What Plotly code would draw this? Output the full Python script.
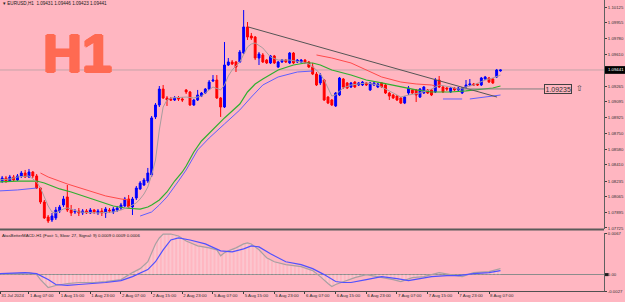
import plotly.graph_objects as go

W, H = 625, 302

# ---------------- data ----------------
bars = list(range(132))
open_pts = [
108225,108235,108268,108235,108279,108246,108290,108322,108279,108333,
108290,108159,108007,107844,107812,107834,107910,107975,108062,107920,
107899,107910,107888,107910,107888,107920,107888,107910,107888,107920,
107899,107920,107942,107964,108040,107953,108051,108149,108192,108235,
108301,108931,109061,109234,109137,109126,109115,109137,109126,109224,
109202,109061,109115,109158,109191,109234,109321,109332,109137,109039,
109495,109528,109528,109528,109625,109908,109810,109799,109571,109604,
109549,109517,109593,109473,109528,109549,109517,109625,109528,109528,
109549,109528,109473,109397,109300,109332,109147,109115,109050,109169,
109343,109300,109256,109310,109278,109278,109300,109224,109278,109256,
109300,109278,109191,109169,109158,109137,109082,109191,109224,109224,
109147,109191,109224,109224,109202,109332,109256,109245,109202,109245,
109224,109191,109256,109278,109289,109289,109278,109343,109354,109343,
109365,109431]
high_pts = [
108268,108290,108290,108301,108301,108311,108344,108355,108366,108344,
108311,108170,108029,107866,107888,107953,107975,108073,108192,107975,
107931,107942,107931,107931,107942,107931,107931,107942,107953,107942,
107953,107964,107997,108062,108083,108062,108181,108235,108268,108377,
108941,109082,109267,109278,109158,109147,109158,109158,109147,109234,
109213,109126,109224,109202,109245,109332,109386,109386,109147,109745,
109571,109549,109539,109658,110092,109962,109843,109810,109636,109625,
109560,109604,109604,109539,109560,109560,109636,109636,109560,109560,
109560,109539,109517,109419,109408,109343,109158,109126,109202,109365,
109354,109310,109310,109321,109310,109321,109310,109310,109310,109300,
109310,109289,109202,109180,109169,109147,109158,109267,109234,109234,
109245,109267,109234,109234,109354,109376,109267,109256,109256,109256,
109256,109256,109332,109343,109300,109300,109365,109376,109365,109354,
109452,109446]
low_pts = [
108203,108214,108214,108225,108235,108235,108268,108268,108268,108268,
108149,107986,107823,107779,107790,107812,107888,107953,107899,107855,
107877,107855,107866,107877,107877,107877,107866,107855,107834,107888,
107877,107899,107920,107953,107942,107866,108029,108138,108181,108214,
108279,108909,109039,109126,109050,109104,109104,109104,109093,109180,
109050,109050,109104,109147,109180,109224,109310,109126,108931,109028,
109484,109495,109419,109517,109615,109767,109767,109549,109495,109517,
109506,109506,109506,109463,109517,109517,109506,109506,109517,109517,
109506,109463,109386,109267,109278,109104,109071,109050,109039,109158,
109234,109234,109245,109245,109267,109267,109267,109213,109267,109245,
109245,109180,109115,109126,109104,109071,109071,109169,109180,109093,
109137,109180,109180,109158,109191,109245,109191,109213,109191,109213,
109213,109180,109245,109267,109267,109267,109267,109332,109300,109289,
109354,109423]
close_pts = [
108246,108268,108235,108279,108246,108290,108322,108279,108333,108290,
108159,108007,107834,107801,107855,107920,107953,108040,107920,107888,
107910,107888,107910,107888,107920,107899,107910,107888,107931,107910,
107931,107942,107975,108040,107953,108040,108159,108214,108246,108322,
108920,109061,109234,109137,109115,109115,109137,109126,109115,109202,
109061,109115,109169,109191,109234,109310,109332,109137,109039,109495,
109528,109506,109473,109636,109908,109799,109788,109571,109615,109528,
109517,109593,109517,109528,109549,109528,109625,109517,109549,109549,
109517,109473,109397,109278,109386,109115,109082,109061,109191,109354,
109256,109245,109300,109256,109300,109310,109278,109300,109300,109289,
109256,109191,109158,109137,109115,109082,109147,109245,109191,109169,
109234,109256,109191,109169,109332,109256,109202,109234,109245,109224,
109245,109245,109278,109289,109278,109278,109354,109365,109310,109300,
109441,109441]

# moving averages (bar index, price points)
fast_x = [0,3,5,8,10,11,12,13,14,15,16,17,18,19,21,26,30,32,34,36,37,38,39,40,41,42,43,44,45,49,51,53,55,56,58,59,60,61,63,64,65,66,67,69,71,73,76,79,81,83,84,85,86,87,88,89,90,92,96,99,102,105,107,110,113,115,118,120,122,124,127,129,131]
fast_pts = [108246,108257,108279,108290,108225,108159,108062,107964,107899,107888,107910,107931,107942,107931,107899,107888,107899,107920,107953,107997,108040,108094,108170,108301,108463,108789,109039,109115,109137,109147,109137,109158,109224,109256,109224,109278,109376,109441,109528,109615,109691,109723,109734,109680,109582,109549,109549,109528,109506,109441,109397,109332,109245,109158,109169,109213,109245,109278,109300,109278,109213,109147,109169,109191,109234,109278,109256,109234,109256,109278,109332,109354,109386]
slow_x = [0,5,10,12,14,16,19,23,26,30,33,37,39,40,42,44,46,48,49,50,51,53,57,59,63,65,67,69,73,77,80,82,84,87,92,96,100,105,109,113,118,122,126,129,131]
slow_pts = [108225,108235,108235,108214,108181,108149,108116,108062,108018,107964,107942,107931,107953,107975,108029,108116,108235,108333,108398,108474,108550,108670,108833,108920,109071,109202,109289,109343,109441,109495,109517,109517,109495,109441,109386,109332,109300,109256,109224,109202,109202,109213,109234,109245,109267]
up_a_x = [0,5,10];            up_a_pts = [108127,108138,108159]
up_b_x = [37,40,42,44,47,49,52,55,59,63,66,69,73,78,82]
up_b_pts = [107855,107899,107975,108062,108235,108355,108572,108702,108855,109007,109147,109278,109365,109419,109430]
up_c_x = [116,121];           up_c_pts = [109126,109126]
up_d_x = [123,126,129,131];   up_d_pts = [109126,109142,109158,109169]
dn_a_x = [11,13,18,23,28,32,34]
dn_a_pts = [108322,108279,108203,108138,108073,108040,108029]
dn_b_x = [83,87,92,96,100,105,109,113,114]
dn_b_pts = [109604,109571,109517,109441,109365,109310,109289,109278,109267]

trend_x = [65.2, 130.1]
trend_y = [1.09908, 1.09147]
level_x = [121, 142.4]
level_price = 1.09235
bid_price = 1.09441

# MACD (bar index, value)
macd_x = [0,5,8,10,11,12,13,15,18,21,25,28,32,35,37,39,40,41,42,43,45,47,49,52,55,57,58,59,60,62,64,65,66,68,70,72,75,79,82,84,86,87,88,90,93,96,99,103,105,108,111,115,118,121,124,128,131]
macd_v = [0.00016,0.00016,0.00033,0.0,-0.00082,-0.00147,-0.00212,-0.00179,-0.00147,-0.0013,-0.0013,-0.00114,-0.00082,0.00033,0.00098,0.00212,0.00375,0.00505,0.00603,0.00668,0.00668,0.00636,0.00554,0.00473,0.0044,0.00408,0.0031,0.00359,0.00391,0.0044,0.00505,0.00522,0.00505,0.00408,0.00277,0.00212,0.00163,0.0013,0.00065,-0.00033,-0.00147,-0.00196,-0.00163,-0.00114,-0.00049,0.0,-0.00033,-0.00082,-0.00114,-0.00049,-0.00033,0.00033,0.0,-0.00033,0.00033,0.00049,0.00098]
sig_x = [0,7,10,13,15,18,21,25,28,32,35,39,41,43,45,47,50,54,58,61,64,66,68,71,75,79,82,85,88,90,92,96,100,104,107,110,113,117,120,124,128,131]
sig_v = [0.00016,0.00033,0.00016,-0.00082,-0.00163,-0.00179,-0.00163,-0.00147,-0.0013,-0.00098,-0.00033,0.00082,0.00212,0.00408,0.0057,0.00603,0.0057,0.00505,0.00391,0.00375,0.00424,0.00473,0.00456,0.00342,0.00212,0.00163,0.00098,0.0,-0.00114,-0.0013,-0.0013,-0.00082,-0.00033,-0.00065,-0.00098,-0.00065,-0.00033,-0.00016,-0.00016,0.00016,0.00033,0.00065]

price_ticks = [1.10125,1.09955,1.09780,1.09610,1.09265,1.09095,1.08925,1.08750,1.08580,1.08410,1.08235,1.08065,1.07895,1.07725]
macd_ticks = [0.0067, 0.0, -0.0027]
macd_tick_text = ["0.0067", "0.00", "-0.0027"]
time_ticks = [0.5,8,16,24,32,40,48,56,64,72,80,88,96,104,112,120,128]
time_labels = ["31 Jul 2024","1 Aug 07:00","1 Aug 15:00","1 Aug 23:00","2 Aug 07:00","2 Aug 15:00",
               "2 Aug 23:00","5 Aug 07:00","5 Aug 15:00","5 Aug 23:00","6 Aug 07:00","6 Aug 15:00",
               "6 Aug 23:00","7 Aug 07:00","7 Aug 15:00","7 Aug 23:00","8 Aug 07:00"]

header = "\u25BE EURUSD,H1  1.09431 1.09446 1.09423 1.09441"
macd_title = "AtasBetterMACD-H1 (Fast: 5, Slow: 27, Signal: 9) 0.0009 0.0009 0.0006"

# ---------------- figure ----------------
def p(v): return [a / 100000 for a in v]

BG = "#FFB6C1"
XDOM = 604 / W
H1_COLOR = "#FF6A52"
fig = go.Figure()

def line(x, y, color, width, yaxis="y", name=""):
    fig.add_trace(go.Scatter(x=x, y=y, mode="lines", yaxis=yaxis, name=name,
                             line=dict(color=color, width=width), hoverinfo="skip"))

line(slow_x, p(slow_pts), "#2FAF2F", 1.2)
line(up_a_x, p(up_a_pts), "#5F5FFF", 1)
line(up_b_x, p(up_b_pts), "#5F5FFF", 1)
line(up_c_x, p(up_c_pts), "#5F5FFF", 1)
line(up_d_x, p(up_d_pts), "#5F5FFF", 1)
line(dn_a_x, p(dn_a_pts), "#FF4A4A", 1)
line(dn_b_x, p(dn_b_pts), "#FF4A4A", 1)
line(fast_x, p(fast_pts), "#A89C9E", 1)
line(trend_x, trend_y, "#555555", 1)
line(level_x, [level_price, level_price], "#808080", 1)

fig.add_trace(go.Candlestick(
    x=bars, open=p(open_pts), high=p(high_pts), low=p(low_pts), close=p(close_pts),
    increasing=dict(line=dict(color="#0000FF", width=1), fillcolor="#0000FF"),
    decreasing=dict(line=dict(color="#FF0000", width=1), fillcolor="#FF0000"),
    whiskerwidth=0, hoverinfo="skip", yaxis="y"))

# MACD pane
fig.add_trace(go.Scatter(x=macd_x, y=macd_v, mode="lines", yaxis="y2",
                         line=dict(color="#A8A0A2", width=1.2),
                         fill="tozeroy", fillcolor="rgba(0,0,0,0)",
                         fillpattern=dict(shape="|", fgcolor="rgba(242,238,240,0.95)",
                                          bgcolor="rgba(0,0,0,0)", size=3.83, solidity=0.3),
                         hoverinfo="skip"))
line(sig_x, sig_v, "#5050FF", 1.2, yaxis="y2")

fig.update_layout(
    width=W, height=H, margin=dict(l=0, r=0, t=0, b=0, autoexpand=False),
    paper_bgcolor=BG, plot_bgcolor=BG, showlegend=False,
    font=dict(family="Liberation Sans, Arial, sans-serif", color="#303030"),
    xaxis=dict(domain=[0, XDOM], range=[0.44, 158], anchor="y2", automargin=False,
               rangeslider=dict(visible=False), showgrid=False, zeroline=False,
               showline=True, linecolor="#505050", linewidth=1,
               tickvals=time_ticks, ticktext=time_labels, ticks="outside", ticklen=2,
               tickangle=0, tickcolor="#404040", ticklabelposition="outside right",
               tickfont=dict(size=4.4, color="#303030")),
    yaxis=dict(domain=[1 - 229 / H, 1], range=[1.07714, 1.10201], side="right", anchor="x",
               automargin=False, showgrid=False, zeroline=False, showline=True,
               linecolor="#606060",
               tickvals=price_ticks, ticktext=[f"{v:.5f}" for v in price_ticks],
               ticks="outside", ticklen=2, tickcolor="#404040",
               tickfont=dict(size=4.3, color="#303030")),
    yaxis2=dict(domain=[1 - 291 / H, 1 - 233 / H], range=[-0.0027, 0.00685], side="right",
                anchor="x", automargin=False, showgrid=False, zeroline=True,
                zerolinecolor="#8C8C8C", zerolinewidth=1, showline=True, linecolor="#606060",
                tickvals=macd_ticks, ticktext=macd_tick_text, ticks="outside", ticklen=2,
                tickcolor="#404040", tickfont=dict(size=4.3, color="#303030")),
)

shapes = [
    dict(type="line", xref="x domain", yref="y", x0=0, x1=1, y0=bid_price, y1=bid_price,
         line=dict(color="rgba(150,150,150,0.55)", width=1), layer="below"),
    dict(type="line", xref="paper", yref="paper", x0=0, x1=XDOM,
         y0=1 - 229.5 / H, y1=1 - 229.5 / H, line=dict(color="#5A5A5A", width=2)),
    dict(type="rect", xref="paper", yref="y", x0=605 / W, x1=1,
         y0=bid_price - 0.00042, y1=bid_price + 0.00042,
         fillcolor="#000000", line=dict(width=0)),
    dict(type="rect", xref="paper", yref="y2", x0=605 / W, x1=608.5 / W,
         y0=-0.00025, y1=0.00025, fillcolor="#202020", line=dict(width=0)),
]
fig.update_layout(shapes=shapes)

h1_shadow = (f"1.2px 0px 0px {H1_COLOR}, -1.2px 0px 0px {H1_COLOR}, "
             f"0px 1px 0px {H1_COLOR}, 0px -1px 0px {H1_COLOR}")
ann = [
    dict(text=header, xref="paper", yref="paper", x=1 / W, y=1 - 3.2 / H,
         xanchor="left", yanchor="middle", showarrow=False,
         font=dict(size=4.6, color="#202020")),
    dict(text="H1", xref="paper", yref="paper", x=77 / W, y=1 - 53 / H,
         xanchor="center", yanchor="middle", showarrow=False,
         font=dict(size=54, color=H1_COLOR, family="Liberation Sans, Arial",
                   weight="bold", shadow=h1_shadow)),
    dict(text=macd_title, xref="paper", yref="paper", x=0, y=1 - 235 / H,
         xanchor="left", yanchor="middle", showarrow=False,
         font=dict(size=4.3, color="#202020")),
    dict(text="1.09441", xref="paper", yref="y", x=606 / W, y=bid_price,
         xanchor="left", yanchor="middle", showarrow=False,
         font=dict(size=4.3, color="#FFFFFF")),
    dict(text="1.09235", xref="x", yref="y", x=level_x[1], y=level_price,
         xanchor="left", yanchor="middle", showarrow=False,
         bordercolor="#404040", borderwidth=1, borderpad=0.5,
         font=dict(size=7, color="#303030")),
    dict(text="\u21E7", xref="paper", yref="y", x=574 / W, y=level_price + 0.00006,
         xanchor="left", yanchor="middle", showarrow=False,
         font=dict(size=8, color="#404040", family="DejaVu Sans")),
]
fig.update_layout(annotations=ann)

fig.write_html("out.html")
